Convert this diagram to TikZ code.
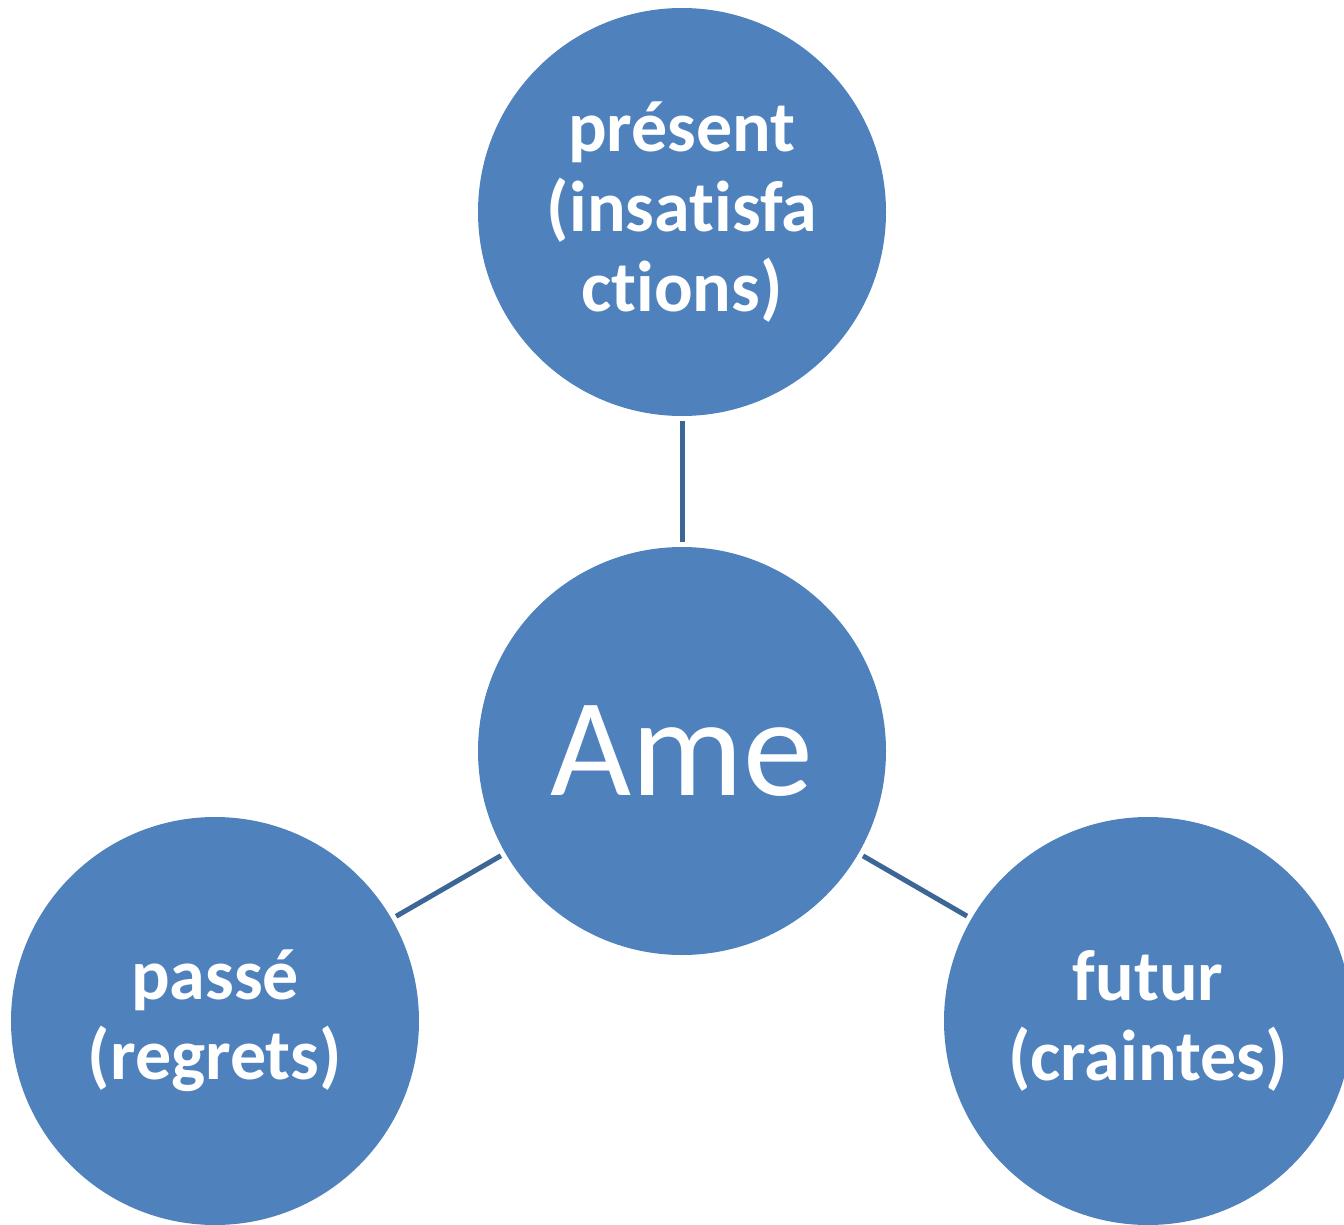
\documentclass[tikz,border=0pt]{standalone}
\usepackage{fontspec}
\setmainfont{Carlito}[Ligatures=NoCommon]
\definecolor{circfill}{HTML}{4F81BD}
\definecolor{linkcol}{HTML}{3C6696}
\begin{document}
\begin{tikzpicture}[x=1pt,y=-1pt,
  bubble/.style={circle,fill=circfill,minimum size=408pt,inner sep=0pt,text=white,align=center,
    font=\bfseries\fontsize{72}{80}\selectfont},
  link/.style={draw=linkcol,line width=5pt,shorten <=5pt,shorten >=5pt}]
\useasboundingbox (0,0) rectangle (1344,1225);
\node[bubble] (present) at (682,212) {présent\\(insatisfa\\ctions)};
\node[bubble,font=\fontsize{140}{150}\selectfont] (ame) at (682,751) {Ame};
\node[bubble] (passe) at (215,1021) {passé\\(regrets)};
\node[bubble] (futur) at (1148,1021) {futur\\(craintes)};
\draw[link] (present) -- (ame);
\draw[link] (ame) -- (passe);
\draw[link] (ame) -- (futur);
\end{tikzpicture}
\end{document}
